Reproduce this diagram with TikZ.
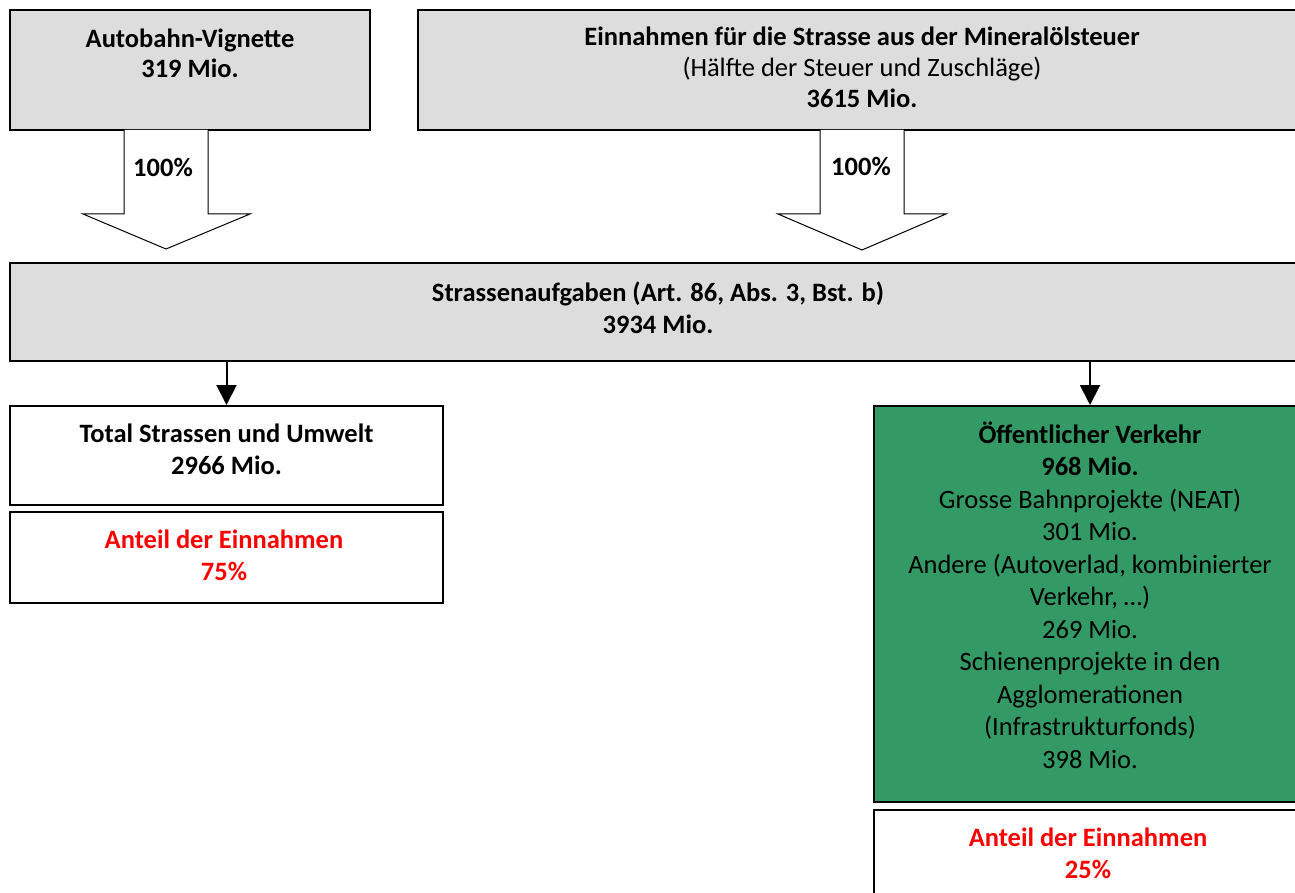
\documentclass[tikz,border=0pt]{standalone}
\usepackage{fontspec}
\setmainfont{Carlito}
\usetikzlibrary{arrows.meta}
\definecolor{boxgray}{RGB}{221,221,221}
\definecolor{vgreen}{RGB}{52,154,101}
\definecolor{vred}{RGB}{255,0,0}
\tikzset{
  box/.style={draw=black, line width=2pt, rectangle, inner sep=0pt, anchor=center},
  txt/.style={align=center, anchor=base, inner sep=0pt, font=\fontsize{26.5}{32.3}\selectfont},
  conn/.style={line width=2pt, -{Triangle[width=20pt,length=20pt]}},
  blockarrow/.style={draw=black, line width=1pt, fill=white, line join=miter},
}
\begin{document}
\begin{tikzpicture}[x=1pt,y=-1pt]
\useasboundingbox (0,0) rectangle (1295,893);
\clip (0,0) rectangle (1295,893);
% boxes
\node[box, fill=boxgray, minimum width=360pt, minimum height=120pt] (A) at (190,70) {};
\node[box, fill=boxgray, minimum width=888pt, minimum height=120pt] (B) at (862,70) {};
\node[box, fill=boxgray, minimum width=1296pt, minimum height=97pt] (C) at (658,312) {};
\node[box, fill=white, minimum width=433pt, minimum height=99pt] (D) at (226.5,455.5) {};
\node[box, fill=white, minimum width=433pt, minimum height=91pt] (E) at (226.5,557.5) {};
\node[box, fill=vgreen, minimum width=432pt, minimum height=396pt] (F) at (1090,604) {};
\node[box, fill=white, minimum width=432pt, minimum height=90pt] (G) at (1090,855) {};
% texts (anchor base = baseline of last line)
\node[txt, font=\fontsize{26.5}{30}\selectfont\bfseries] (tA) at (190,77.5) {Autobahn-Vignette\\319 Mio.};
\node[txt, font=\fontsize{26.5}{31}\selectfont] (tB) at (862,108) {\textbf{Einnahmen für die Strasse aus der Mineralölsteuer}\\(Hälfte der Steuer und Zuschläge)\\\textbf{3615 Mio.}};
\node[txt, font=\fontsize{26.5}{32}\selectfont\bfseries] (tC) at (658,333) {Strassenaufgaben (Art. 86, Abs. 3, Bst. b)\\3934 Mio.};
\node[txt, font=\fontsize{26.5}{32.5}\selectfont\bfseries] (tD) at (226.5,474.5) {Total Strassen und Umwelt\\2966 Mio.};
\node[txt, font=\fontsize{26.5}{32}\selectfont\bfseries, text=vred] (tE) at (224,580.5) {Anteil der Einnahmen\\75\%};
\node[txt, font=\fontsize{26.5}{32.5}\selectfont] (tF) at (1090,768) {\textbf{Öffentlicher Verkehr}\\\textbf{968 Mio.}\\Grosse Bahnprojekte (NEAT)\\301 Mio.\\Andere (Autoverlad, kombinierter\\Verkehr, …)\\269 Mio.\\Schienenprojekte in den\\Agglomerationen\\(Infrastrukturfonds)\\398 Mio.};
\node[txt, font=\fontsize{26.5}{32}\selectfont\bfseries, text=vred] (tG) at (1088,878) {Anteil der Einnahmen\\25\%};
% block arrows
\draw[blockarrow] (124,130) -- (124,214) -- (83,214) -- (166,249) -- (250,214) -- (208,214) -- (208,130);
\node[txt, font=\fontsize{26.5}{32}\selectfont\bfseries] (pA) at (163,177) {100\%};
\draw[blockarrow] (820,130) -- (820,214) -- (778,214) -- (862,250) -- (946,214) -- (904,214) -- (904,130);
\node[txt, font=\fontsize{26.5}{32}\selectfont\bfseries] (pB) at (861,176) {100\%};
% connectors
\draw[conn] (C.south -| D.north) -- (D.north);
\draw[conn] (C.south -| F.north) -- (F.north);
\end{tikzpicture}
\end{document}
